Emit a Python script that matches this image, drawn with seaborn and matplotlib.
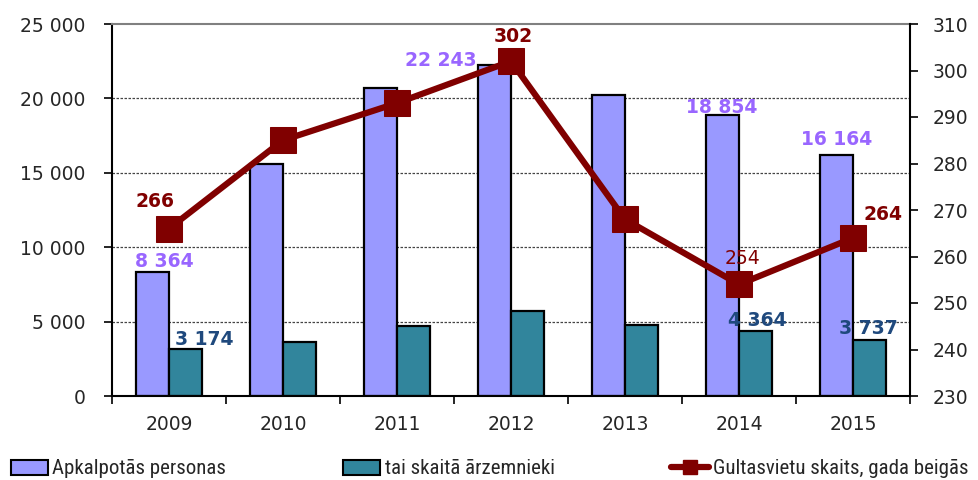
import numpy as np
import pandas as pd
import matplotlib
matplotlib.use("Agg")
import matplotlib.pyplot as plt
import seaborn as sns
from matplotlib.patches import Patch
from matplotlib.lines import Line2D
from matplotlib.ticker import FuncFormatter, MultipleLocator, FixedLocator
from matplotlib import font_manager

years = ["2009", "2010", "2011", "2012", "2013", "2014", "2015"]
served = [8364, 15600, 20700, 22243, 20200, 18854, 16164]
foreign = [3174, 3600, 4700, 5700, 4800, 4364, 3737]
beds = [266, 285, 293, 302, 268, 254, 264]
series_names = ["Apkalpotās personas", "tai skaitā ārzemnieki", "Gultasvietu skaits, gada beigās"]

c_served = "#9999ff"
c_foreign = "#31859c"
c_line = "#800000"
c_lab_served = "#9966ff"
c_lab_foreign = "#1f497d"

sns.set_style("white")
plt.rcParams["font.family"] = ["DejaVu Sans"]
names = {f.name for f in font_manager.fontManager.ttflist}
narrow_fam = None
for cand in ["Liberation Sans Narrow", "Roboto Condensed", "Open Sans Condensed", "Noto Sans Condensed"]:
    if cand in names:
        narrow_fam = cand
        break
if narrow_fam is None:
    legend_prop = font_manager.FontProperties(family="DejaVu Sans", stretch="condensed", size=15.5)
else:
    legend_prop = font_manager.FontProperties(family=narrow_fam, size=15)

df = pd.DataFrame({
    "year": years * 2,
    "series": [series_names[0]] * 7 + [series_names[1]] * 7,
    "value": served + foreign,
})

fig = plt.figure(figsize=(9.79, 4.8), dpi=100)
ax = fig.add_axes([112 / 979, 84 / 480, 798 / 979, 372 / 480])
sns.barplot(data=df, x="year", y="value", hue="series", palette=[c_served, c_foreign],
            width=0.58, edgecolor="black", linewidth=1.6, legend=False, ax=ax, saturation=1)
ax.set_xlim(-0.5, 6.5)
ax.set_ylim(0, 25000)
ax.set_xlabel("")
ax.set_ylabel("")
ax.yaxis.set_major_locator(MultipleLocator(5000))
ax.yaxis.set_major_formatter(FuncFormatter(lambda v, p: f"{int(v):,}".replace(",", " ")))
for y in [5000, 10000, 15000, 20000]:
    ax.axhline(y, color="#444444", lw=0.9, ls=(0, (2, 1.2)), zorder=0)
ax.set_axisbelow(True)
ax.tick_params(axis="y", direction="out", length=6, width=1.2, color="black", labelsize=13.5, pad=13, left=True)
ax.xaxis.set_minor_locator(FixedLocator(np.arange(-0.5, 7.0, 1.0)))
ax.tick_params(axis="x", which="major", length=0, labelsize=13.5, pad=14)
ax.tick_params(axis="x", which="minor", direction="out", length=6, width=1.2, color="black", bottom=True)
for s in ["left", "bottom"]:
    ax.spines[s].set_color("black")
    ax.spines[s].set_linewidth(1.5)
ax.spines["top"].set_color("#808080")
ax.spines["top"].set_linewidth(1.5)
ax.spines["right"].set_visible(False)

ax2 = ax.twinx()
sns.lineplot(x=np.arange(len(years)), y=beds, color=c_line, lw=4.5, marker="s", markersize=19,
             markeredgecolor=c_line, ax=ax2, legend=False)
ax2.set_ylim(230, 310)
ax2.yaxis.set_major_locator(MultipleLocator(10))
ax2.tick_params(axis="y", direction="out", length=6, width=1.2, color="black", labelsize=13.5, pad=10, right=True)
ax2.set_ylabel("")
for s in ["left", "top", "bottom"]:
    ax2.spines[s].set_visible(False)
ax2.spines["right"].set_color("black")
ax2.spines["right"].set_linewidth(1.5)

def lab(axx, x, y, text, dx, dy, color, weight="bold"):
    axx.annotate(text, xy=(x, y), xytext=(dx * 0.72, dy * 0.72), textcoords="offset points",
                 ha="center", va="center", fontsize=13.5, color=color, fontweight=weight, zorder=10)

fmt = lambda v: f"{v:,}".replace(",", " ")
off = 0.145
lab(ax, 0 - off, served[0], fmt(served[0]), 12, 10, c_lab_served)
lab(ax, 3 - off, served[3], fmt(served[3]), -54, 5, c_lab_served)
lab(ax, 5 - off, served[5], fmt(served[5]), -1, 8, c_lab_served)
lab(ax, 6 - off, served[6], fmt(served[6]), 0, 16, c_lab_served)
lab(ax, 0 + off, foreign[0], fmt(foreign[0]), 19, 9, c_lab_foreign)
lab(ax, 5 + off, foreign[5], fmt(foreign[5]), 2, 11, c_lab_foreign)
lab(ax, 6 + off, foreign[6], fmt(foreign[6]), -1, 12, c_lab_foreign)
lab(ax2, 0, beds[0], str(beds[0]), -14, 27, c_line)
lab(ax2, 3, beds[3], str(beds[3]), 2, 25, c_line)
lab(ax2, 5, beds[5], str(beds[5]), 4, 26, c_line, weight="normal")
lab(ax2, 6, beds[6], str(beds[6]), 30, 23, c_line)

handles = [
    Patch(facecolor=c_served, edgecolor="black", linewidth=1.5),
    Patch(facecolor=c_foreign, edgecolor="black", linewidth=1.5),
    Line2D([0], [0], color=c_line, lw=4.5, marker="s", markersize=10),
]
fig.legend(handles, series_names, loc="center", bbox_to_anchor=(0.5, 11 / 480), ncol=3,
           frameon=False, prop=legend_prop, handlelength=1.8, handletextpad=0.2,
           columnspacing=5.6, borderaxespad=0)

fig.savefig("out.png", dpi=100)
